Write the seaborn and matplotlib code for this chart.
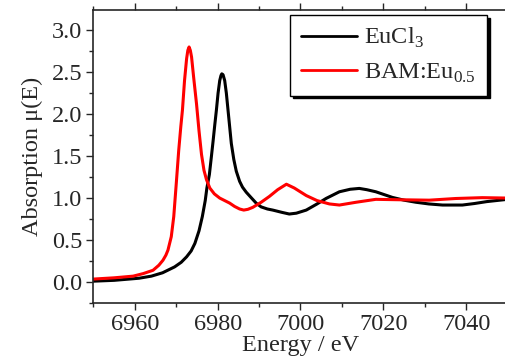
import matplotlib
matplotlib.use("Agg")
import matplotlib.pyplot as plt
from matplotlib.ticker import MultipleLocator
import seaborn as sns
import pandas as pd

# EuCl3 reference spectrum
eucl3_energy = [6950, 6955, 6961, 6964, 6966.7, 6969.6, 6971.2, 6972.5, 6973.6, 6974.5,
                6975.5, 6976.3, 6977.0, 6977.4, 6978.0, 6978.5, 6978.9, 6979.3, 6979.7,
                6980.1, 6980.5, 6980.8, 6981.0, 6981.3, 6981.7, 6982.1, 6982.5, 6982.9,
                6983.3, 6983.9, 6984.5, 6985.3, 6986.0, 6986.9, 6988.0, 6989.3, 6990.5,
                6992, 6993.3, 6995.5, 6997.3, 6999, 7001.4, 7004, 7006.2, 7009.4, 7012,
                7014.2, 7016, 7018.2, 7022.2, 7025, 7027.9, 7031, 7034.3, 7039.1, 7042,
                7045, 7050]
eucl3_mu = [0.01, 0.02, 0.045, 0.07, 0.11, 0.18, 0.235, 0.30, 0.37, 0.46,
            0.61, 0.78, 0.97, 1.12, 1.28, 1.50, 1.68, 1.87, 2.05,
            2.25, 2.40, 2.46, 2.48, 2.47, 2.40, 2.25, 2.05, 1.85,
            1.65, 1.46, 1.32, 1.20, 1.13, 1.07, 1.01, 0.94, 0.895,
            0.87, 0.857, 0.83, 0.81, 0.82, 0.857, 0.93, 0.996, 1.075, 1.105,
            1.115, 1.10, 1.075, 1.008, 0.975, 0.95, 0.93, 0.917, 0.917, 0.935,
            0.958, 0.985]

# BAM:Eu0.5 sample
bam_energy = [6950, 6955, 6959.6, 6962, 6964.4, 6965.8, 6966.8, 6967.5, 6968.0, 6968.4,
              6968.8, 6969.4, 6970.0, 6970.6, 6971.1, 6971.5, 6972.0, 6972.5, 6972.8,
              6973.1, 6973.4, 6973.7, 6974.2, 6974.9, 6975.5, 6976.1, 6976.7, 6977.3,
              6978.1, 6979.2, 6980.5, 6981.7, 6982.9, 6984.1, 6985.3, 6986.3, 6987.3,
              6988.5, 6990.5, 6992.5, 6994.5, 6996.6, 6998.5, 7001.4, 7004, 7007.0,
              7009.4, 7013.4, 7018.2, 7023.9, 7031.1, 7037.5, 7043.9, 7050]
bam_mu = [0.035, 0.05, 0.07, 0.10, 0.14, 0.20, 0.26, 0.32, 0.38, 0.46,
          0.54, 0.78, 1.17, 1.57, 1.85, 2.05, 2.40, 2.66, 2.76,
          2.80, 2.76, 2.68, 2.44, 2.12, 1.80, 1.52, 1.33, 1.22,
          1.12, 1.05, 1.00, 0.97, 0.94, 0.90, 0.87, 0.857, 0.866,
          0.89, 0.95, 1.02, 1.10, 1.165, 1.12, 1.03, 0.97, 0.93,
          0.917, 0.95, 0.985, 0.98, 0.975, 0.995, 1.005, 1.0]

df = pd.concat([
    pd.DataFrame({"energy": eucl3_energy, "mu": eucl3_mu, "sample": "EuCl$_\\mathregular{3}$"}),
    pd.DataFrame({"energy": bam_energy, "mu": bam_mu, "sample": "BAM:Eu$_\\mathregular{0.5}$"}),
])

sns.set_style("ticks")
plt.rcParams["font.family"] = ["Liberation Serif", "DejaVu Serif"]
plt.rcParams["mathtext.fontset"] = "custom"
plt.rcParams["mathtext.rm"] = "Liberation Serif"

fig = plt.figure(figsize=(5.05, 3.59), dpi=100)
ax = fig.add_axes([0.185, 0.156, 0.82, 0.816])

sns.lineplot(data=df, x="energy", y="mu", hue="sample", palette=["black", "red"],
             linewidth=2.2, sort=False, estimator=None, ax=ax)

ax.set_xlim(6950, 7050)
ax.set_ylim(-0.25, 3.24)
ax.xaxis.set_major_locator(MultipleLocator(20))
ax.xaxis.set_minor_locator(MultipleLocator(10))
ax.yaxis.set_major_locator(MultipleLocator(0.5))
ax.yaxis.set_minor_locator(MultipleLocator(0.25))
ax.tick_params(axis="both", which="major", labelsize=17.5, length=5, width=1,
               direction="out", pad=3)
ax.tick_params(axis="both", which="minor", length=3, width=1, direction="out")
ax.tick_params(axis="x", which="both", top=True, labeltop=False)
for s in ax.spines.values():
    s.set_linewidth(1.2)

ax.set_xlabel("Energy / eV", fontsize=17.5, labelpad=0)
ax.set_ylabel("Absorption \u03bc(E)", fontsize=17.5, labelpad=6)

leg = ax.legend(loc="upper right", bbox_to_anchor=(0.95, 0.982), borderaxespad=0,
                fontsize=17.5, frameon=True, fancybox=False, edgecolor="black",
                shadow={"color": "black", "alpha": 1}, handlelength=2.3,
                borderpad=0.45, labelspacing=0.45, handletextpad=0.3)
leg.get_frame().set_linewidth(1)
leg.get_frame().set_alpha(1)
for h in leg.get_lines():
    h.set_linewidth(2)

plt.savefig("out.png", dpi=100)
